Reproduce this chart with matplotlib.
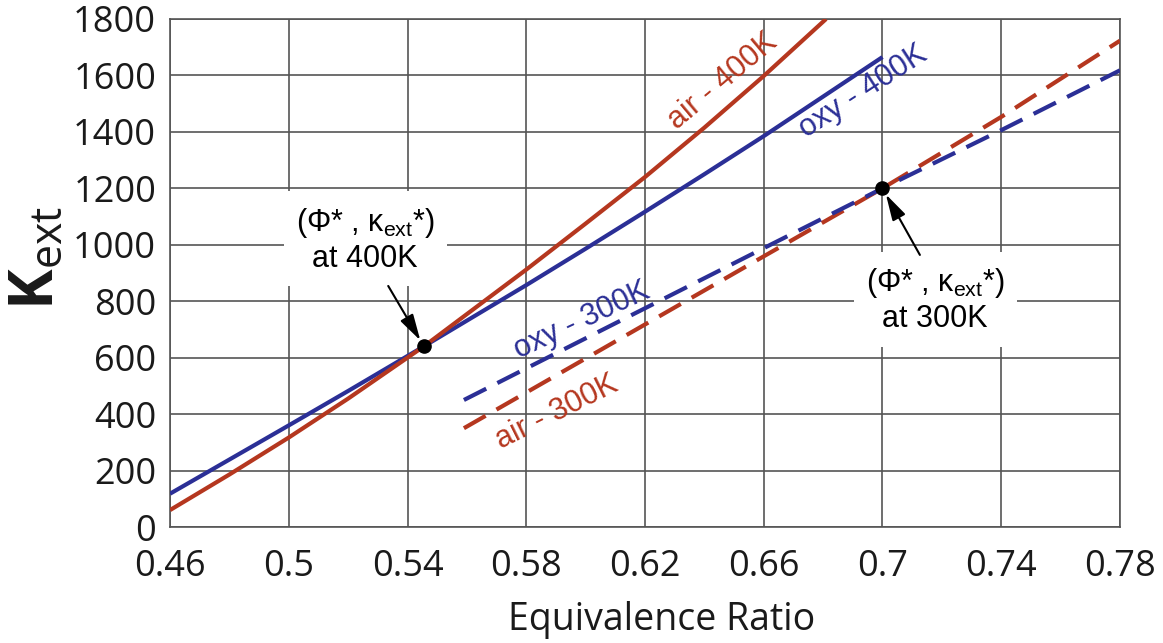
import matplotlib
matplotlib.use('Agg')
import matplotlib.pyplot as plt

# Extinction strain rate vs equivalence ratio
phi_air400 = [0.46, 0.48, 0.50, 0.52, 0.5455, 0.58, 0.60, 0.62, 0.64, 0.66, 0.681]
k_air400 = [60, 186, 317, 455, 640, 912, 1075, 1240, 1415, 1598, 1800]

phi_oxy400 = [0.46, 0.48, 0.50, 0.52, 0.5455, 0.58, 0.60, 0.62, 0.64, 0.66, 0.70]
k_oxy400 = [118, 239, 360, 482, 640, 857, 986, 1117, 1250, 1385, 1665]

phi_air300 = [0.559, 0.60, 0.634, 0.66, 0.70, 0.74, 0.78]
k_air300 = [350, 597, 802, 959, 1200, 1453, 1723]

phi_oxy300 = [0.559, 0.58, 0.62, 0.66, 0.70, 0.74, 0.78]
k_oxy300 = [450, 562, 775, 988, 1200, 1406, 1618]

# crossing points (phi*, kext*)
phi_star = [0.5455, 0.70]
k_star = [640, 1200]

x_ticks = [0.46, 0.50, 0.54, 0.58, 0.62, 0.66, 0.70, 0.74, 0.78]
x_ticklabels = ['0.46', '0.5', '0.54', '0.58', '0.62', '0.66', '0.7', '0.74', '0.78']
y_ticks = list(range(0, 1801, 200))

red = '#b5371f'
blue = '#2b2f96'
gridc = '#555555'
txt = '#1a1a1a'

plt.rcParams['mathtext.fontset'] = 'custom'
plt.rcParams['mathtext.rm'] = 'Liberation Sans'
plt.rcParams['mathtext.it'] = 'Liberation Sans'
plt.rcParams['mathtext.sf'] = 'Open Sans'
plt.rcParams['mathtext.bf'] = 'Open Sans:bold'

fig = plt.figure(figsize=(11.63, 6.43), dpi=100)
ax = fig.add_axes([0.1462, 0.1804, 0.8168, 0.7901])

ax.plot(phi_oxy400, k_oxy400, color=blue, lw=3, solid_capstyle='butt', zorder=3)
ax.plot(phi_air400, k_air400, color=red, lw=3, solid_capstyle='butt', zorder=3)
ax.plot(phi_air300, k_air300, color=red, lw=3, dashes=(6, 3), zorder=3)
ax.plot(phi_oxy300, k_oxy300, color=blue, lw=3, dashes=(6, 3), zorder=3)
ax.plot(phi_star, k_star, 'o', color='black', ms=9.5, zorder=5)

ax.set_xlim(0.46, 0.78)
ax.set_ylim(0, 1800)
ax.set_xticks(x_ticks)
ax.set_xticklabels(x_ticklabels)
ax.set_yticks(y_ticks)
ax.grid(True, color=gridc, lw=1.2)
ax.set_axisbelow(True)
for s in ax.spines.values():
    s.set_color(gridc)
    s.set_linewidth(1.2)
ax.tick_params(length=0, labelsize=26, labelcolor=txt)
ax.tick_params(axis='x', pad=16)
ax.tick_params(axis='y', pad=10)
for lbl in ax.get_xticklabels() + ax.get_yticklabels():
    lbl.set_family('Open Sans')

ax.set_xlabel('Equivalence Ratio', fontsize=27, family='Open Sans', color=txt)
ax.xaxis.set_label_coords(0.517, -0.145)
ax.set_ylabel(r'$\mathbf{K}_{\mathsf{ext}}$', fontsize=44, color=txt)
ax.yaxis.set_label_coords(-0.11, 0.53)

# line labels
lab = dict(fontsize=22, family='Liberation Sans', ha='center', va='center',
           rotation_mode='anchor', zorder=6)
ax.text(0.6463, 1578, 'air - 400K', color=red, rotation=40, **lab)
ax.text(0.6936, 1543, 'oxy - 400K', color=blue, rotation=33, **lab)
ax.text(0.5988, 733, 'oxy - 300K', color=blue, rotation=25, **lab)
ax.text(0.5904, 407, 'air - 300K', color=red, rotation=26.5, **lab)

# annotations of the crossing points
box = dict(boxstyle='square,pad=0.4', fc='white', ec='none')
note = dict(fontsize=22, family='Liberation Sans', ha='center', va='center',
            linespacing=1.2, bbox=box, zorder=4)
ax.text(0.5257, 1017, '($\\Phi$* , $\\kappa_{ext}$*)\nat 400K', **note)
ax.text(0.7177, 804, '($\\Phi$* , $\\kappa_{ext}$*)\nat 300K', **note)

arrow = dict(arrowstyle='-|>,head_length=0.8,head_width=0.22', color='black',
             lw=1.5, mutation_scale=20, shrinkA=0, shrinkB=5)
ax.annotate('', xy=(phi_star[0], k_star[0]), xytext=(0.5335, 854), arrowprops=arrow, zorder=6)
ax.annotate('', xy=(phi_star[1], k_star[1]), xytext=(0.7126, 964), arrowprops=arrow, zorder=6)

fig.savefig('out.png', dpi=100)
